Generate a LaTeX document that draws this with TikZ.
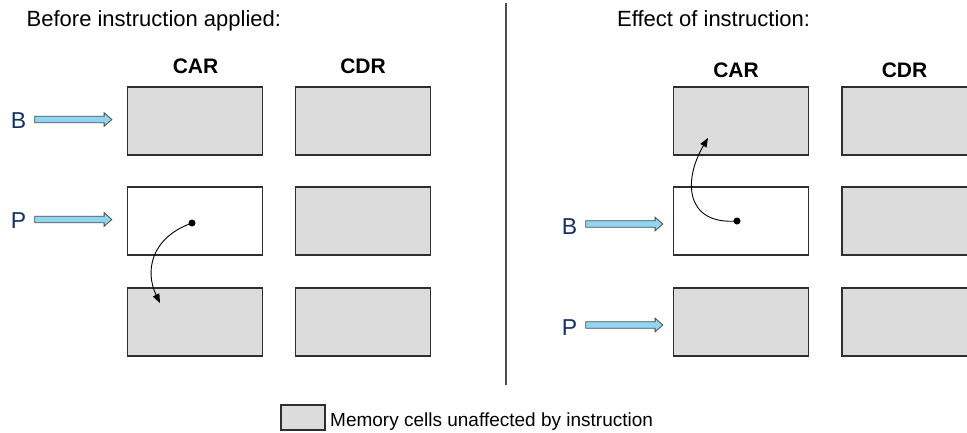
\documentclass[tikz,border=0pt]{standalone}
\usepackage{fontspec}
\setmainfont{Liberation Sans}
\usetikzlibrary{shapes.arrows,arrows.meta}
\definecolor{cellgray}{HTML}{DCDCDC}
\definecolor{cellline}{HTML}{2E2E2E}
\definecolor{ptrblue}{HTML}{8FD6F4}
\definecolor{ptrline}{HTML}{4A4A4A}
\definecolor{ptrtext}{HTML}{13306E}
\tikzset{
  cell/.style={draw=cellline, line width=1.4pt, fill=cellgray,
    minimum width=135pt, minimum height=68pt, inner sep=0pt, outer sep=0pt},
  livecell/.style={cell, fill=white},
  colhead/.style={font=\fontsize{21}{21}\selectfont\bfseries, anchor=base, inner sep=0pt},
  title/.style={font=\fontsize{22}{22}\selectfont, anchor=base west, inner sep=0pt},
  ptrname/.style={font=\fontsize{23}{23}\selectfont, text=ptrtext, anchor=base east, inner sep=0pt},
  ptrarrow/.style={single arrow, draw=ptrline, fill=ptrblue, line width=0.8pt,
    minimum height=77pt, minimum width=13pt, inner sep=2.8pt,
    single arrow head extend=3.6pt, single arrow tip angle=83},
  link/.style={line width=0.9pt, -{Triangle[length=9pt,width=7pt]}},
}
\begin{document}
\begin{tikzpicture}[x=1pt,y=-1pt]
\clip (0,0) rectangle (967,432);
\fill[white] (0,0) rectangle (967,432);

% panel titles and divider
\node[title] (t1) at (26.5,26.7) {Before instruction applied:};
\node[title] (t2) at (617,26.7) {Effect of instruction:};
\draw[line width=1.4pt, draw=cellline!85] (506,3) -- (506,385);

% left panel: cells before the instruction
\node[colhead] (lcar) at (195.5,73) {CAR};
\node[colhead] (lcdr) at (363,73) {CDR};
\node[cell]     (la1) at (194.8,121) {};
\node[livecell] (la2) at (194.8,221) {};
\node[cell]     (la3) at (194.8,322) {};
\node[cell]     (ld1) at (362.8,121) {};
\node[cell]     (ld2) at (362.8,221) {};
\node[cell]     (ld3) at (362.8,322) {};

\node[ptrname]  (lB)  at (26.5,128.3) {B};
\node[ptrarrow] (lBa) at (71.5,119.5) {};
\node[ptrname]  (lP)  at (26.5,228.3) {P};
\node[ptrarrow] (lPa) at (71.5,219.5) {};

\coordinate (ldot) at (192,223);
\coordinate (ltip) at (160,303);
\fill (ldot) circle (3.5);
\draw[link] (ldot) .. controls (150,238) and (145,272) .. (ltip);

% right panel: cells after the instruction
\node[colhead] (rcar) at (736,77) {CAR};
\node[colhead] (rcdr) at (904.5,77) {CDR};
\node[cell]     (ra1) at (740.8,121) {};
\node[livecell] (ra2) at (740.8,221) {};
\node[cell]     (ra3) at (740.8,322) {};
\node[cell]     (rd1) at (909.5,121) {};
\node[cell]     (rd2) at (909.5,221) {};
\node[cell]     (rd3) at (909.5,322) {};

\node[ptrname]  (rB)  at (577.5,234) {B};
\node[ptrarrow] (rBa) at (622.5,224) {};
\node[ptrname]  (rP)  at (577.5,335.5) {P};
\node[ptrarrow] (rPa) at (622.5,325) {};

\coordinate (rdot) at (737,221);
\coordinate (rtip) at (708,138);
\fill (rdot) circle (3.5);
\draw[link] (rdot) .. controls (685,225) and (683,180) .. (rtip);

% legend
\node[draw=cellline, line width=1.2pt, fill=cellgray, minimum width=44pt,
  minimum height=25pt, inner sep=0pt] (key) at (303,417.5) {};
\node[font=\fontsize{19}{19}\selectfont, anchor=base west, inner sep=0pt]
  (keytext) at (330,426) {Memory cells unaffected by instruction};
\end{tikzpicture}
\end{document}
